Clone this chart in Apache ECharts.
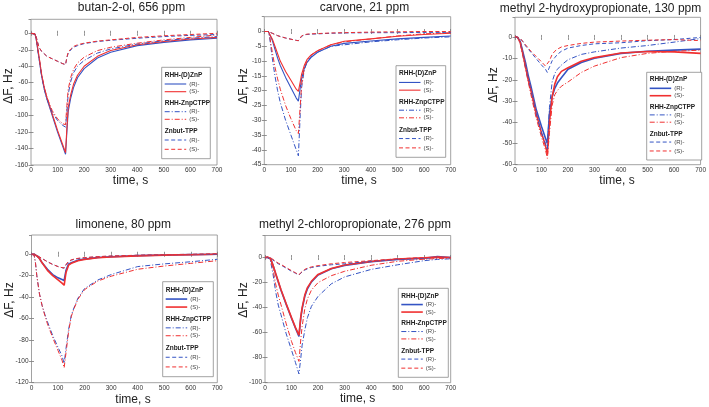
<!DOCTYPE html>
<html><head><meta charset="utf-8">
<script src="https://cdn.jsdelivr.net/npm/echarts@6/dist/echarts.min.js"></script>
<style>html,body{margin:0;padding:0;background:#fff}#c{width:709px;height:407px}</style>
</head><body><div id="c"></div>
<script>
// ---------- DATA (ΔF in Hz vs time in s) ----------
// D = RHH-(D)ZnP (solid), C = RHH-ZnpCTPP (dash-dot), B = Znbut-TPP (dashed); R/S enantiomers
const T_BUT = [0,15,20,30,40,50,60,80,100,120,130,135,140,150,160,175,200,250,300,400,500,600,700];
const BUT_D_R = [0,-1,-8,-30,-52,-68,-80,-100,-120,-138,-147,-120,-95,-78,-66,-54,-43,-30,-23,-15,-11,-8,-6];
const BUT_D_S = [0,-1,-7,-28,-50,-66,-78,-98,-118,-136,-145,-115,-90,-74,-62,-51,-40,-28,-21,-14,-10,-7,-5];
const BUT_C_R = [0,-1,-8,-30,-52,-68,-80,-96,-106,-112,-114,-95,-74,-58,-48,-40,-33,-24,-19,-13,-9,-6,-4];
const BUT_C_S = [0,-1,-7,-28,-50,-66,-78,-94,-104,-110,-111,-88,-68,-53,-44,-36,-29,-21,-17,-12,-8,-5,-2];
const BUT_B_R = [0,-0.5,-5,-17,-22,-25,-28,-31,-34,-37,-38,-30,-24,-20,-17,-15,-12.5,-10,-8.5,-6,-4,-2.5,-1.5];
const BUT_B_S = [0,-0.5,-5,-17,-22,-25,-28,-31,-34,-37,-38,-29,-23,-19,-16,-14,-12,-9.5,-8,-5,-3,-1.5,0];

const T_CAR = [0,15,20,30,40,50,60,80,100,120,128,135,140,150,160,175,200,250,300,400,500,600,700];
const CAR_D_R = [0,0,-0.5,-3,-6,-9,-11.5,-15.5,-19,-22.5,-23.5,-19,-16,-12.5,-10.5,-8.8,-7,-5,-4,-3.2,-2.5,-2,-1.5];
const CAR_D_S = [0,0,-0.3,-2.5,-5,-7.5,-10,-13.5,-16.5,-19.5,-20.2,-17,-14.5,-11.5,-9.5,-8,-6.5,-4.5,-3.3,-2.5,-1.6,-1,-0.6];
const CAR_C_R = [0,0,-2,-9,-15,-20,-24,-30,-35,-40,-42,-28,-19,-13,-10.5,-8.5,-7,-5,-4.5,-3.5,-2.8,-2.2,-1.8];
const CAR_C_S = [0,0,-1.5,-7,-12,-16,-19.5,-25,-29.5,-33.5,-34.5,-25,-18,-12.5,-10,-8,-6.5,-4.5,-3.5,-2.5,-1.5,-0.8,-0.4];
const CAR_B_R = [0,0,-0.2,-0.6,-1,-1.4,-1.7,-2.2,-2.6,-3,-3.1,-2.3,-1.6,-1.2,-1,-0.9,-0.8,-0.6,-0.5,-0.4,-0.4,-0.3,-0.3];
const CAR_B_S = [0,0,-0.2,-0.6,-1,-1.4,-1.7,-2.2,-2.6,-3,-3.1,-2.2,-1.5,-1.1,-0.9,-0.8,-0.7,-0.5,-0.4,-0.2,-0.1,0,0];

const T_MHP = [0,10,15,20,30,40,50,60,80,100,115,122,130,140,150,160,175,200,250,300,400,500,600,700];
const MHP_D_R = [0.5,0,-0.5,-2,-7,-12,-18,-23,-34,-42,-47.5,-50,-36,-28,-24,-21.5,-19,-15,-11.8,-9.8,-7.5,-6.5,-6,-5.5];
const MHP_D_S = [0.5,0,-0.5,-2.5,-8,-14,-20,-25,-36,-45,-51,-55,-40,-28,-22,-18.5,-16,-14.3,-11.2,-9.5,-7.3,-6.6,-6.8,-7.5];
const MHP_C_R = [0.5,0,-0.5,-2.5,-8,-14,-20,-25,-36,-45,-50,-53,-33,-21,-17,-15,-13,-10.5,-8,-6.8,-5,-3.8,-2.2,-0.5];
const MHP_C_S = [0.5,0,-0.5,-3,-9,-15,-21,-27,-38,-47,-53,-57,-45,-32,-27,-25,-23,-21,-16.5,-13.5,-9.5,-7.5,-6.5,-6];
const MHP_B_R = [0.5,0,-0.2,-0.5,-2,-4,-5.5,-7,-10,-13,-15,-16.5,-14,-11,-9.5,-8,-6.5,-5,-3.8,-3,-2.5,-1.5,-1,0];
const MHP_B_S = [0.5,0,-0.2,-0.5,-2,-3.5,-5,-6.5,-9,-11.5,-13.5,-14,-11,-8,-6.5,-5.5,-4.5,-3.8,-2.8,-2.2,-1.7,-1.3,-1,-1.5];

const T_LIM = [0,10,15,20,30,40,50,60,80,100,115,123,130,140,150,160,175,200,250,300,400,500,600,700];
const LIM_D_R = [0,0,-0.5,-1.5,-4,-8,-11,-14,-19,-22,-23.5,-24.5,-15,-9,-8,-7,-5.5,-4.5,-3,-2.3,-1.3,-0.7,-0.3,0];
const LIM_D_S = [0,0,-0.5,-1.5,-4,-8,-11.5,-15,-20,-24,-27,-29,-17,-10,-8.5,-7.5,-6,-4.8,-3.3,-2.6,-1.5,-0.8,-0.4,0];
const LIM_C_R = [0,-1,-8,-20,-37,-48,-56,-63,-76,-87,-95,-102,-88,-70,-57,-50,-41,-32,-24,-19,-11.5,-9,-7,-4.7];
const LIM_C_S = [0,-1,-8,-20,-37,-48,-57,-65,-78,-90,-99,-106,-92,-72,-58,-51,-42,-33,-25,-20.5,-14,-11,-8.5,-6];
const LIM_B_R = [0,0,-0.3,-1,-2.5,-4,-5.5,-7,-9.5,-11.5,-12.5,-13,-10,-7,-5.5,-4.8,-4,-3.3,-2.3,-1.7,-1,-0.5,-0.2,0];
const LIM_B_S = [0,0,-0.3,-1,-2.5,-4,-5.5,-7,-9.5,-11.5,-12.5,-12.8,-9.5,-6.5,-5.2,-4.5,-3.8,-3.1,-2.2,-1.6,-0.9,-0.4,0,0.5];

const T_MCP = [0,10,15,20,30,40,50,60,80,100,115,128,135,140,150,160,175,200,250,300,400,500,600,650,700];
const MCP_D_R = [0,0,0,-0.5,-6,-13,-19.5,-26,-37.5,-48.5,-56.5,-63,-48,-41,-31,-25,-19.5,-14,-9,-6.3,-3.3,-1.5,-0.6,0.8,0];
const MCP_D_S = [0,0,0,-0.5,-6,-12.5,-19,-25.5,-37,-48,-56,-62,-47,-40,-30,-24,-19,-13.5,-8.7,-6,-3.2,-1.2,-0.3,0.3,0];
const MCP_C_R = [0,0,0,-2,-13,-27,-38,-45.5,-61,-74,-84,-93,-80,-70,-58,-48,-39,-31,-21,-15.5,-9.5,-5.8,-2.5,-1.5,-1];
const MCP_C_S = [0,0.5,0,-1.5,-9,-21,-30,-37.5,-53,-67,-76,-83,-65,-55,-41,-33,-26,-20,-14.5,-11,-6.2,-3,-1.3,-0.8,-0.5];
const MCP_B_R = [0,0,0,-0.5,-2,-3.5,-5,-6,-8.5,-11,-12.5,-14,-12.5,-11.5,-10,-9,-8,-7,-5.8,-5,-3,-1.5,-0.5,0,0];
const MCP_B_S = [0,0.5,0.5,0,-1.5,-3,-4.5,-5.5,-8,-10.5,-12.2,-13.8,-12,-11,-9.5,-8.5,-7.5,-6.5,-5,-4,-2.5,-1,0,0,0];

const TITLES = ['butan-2-ol, 656 ppm','carvone, 21 ppm','methyl 2-hydroxypropionate, 130 ppm','limonene, 80 ppm','methyl 2-chloropropionate, 276 ppm'];
const GROUPS = ['RHH-(D)ZnP','RHH-ZnpCTPP','Znbut-TPP'];
const ENANT = ['(R)-','(S)-'];
const X_TICKS = [0,700,100];
const Y_RANGES = [[-160,17,20],[-45,5,5],[-60,9.5,10],[-120,18,20],[-100,17.6,20]];
const X_NAME = 'time, s';
const Y_NAME = 'ΔF, Hz';

const PANEL_T = [T_BUT,T_CAR,T_MHP,T_LIM,T_MCP];
const PANEL_V = [
  [[BUT_D_R,BUT_D_S],[BUT_C_R,BUT_C_S],[BUT_B_R,BUT_B_S]],
  [[CAR_D_R,CAR_D_S],[CAR_C_R,CAR_C_S],[CAR_B_R,CAR_B_S]],
  [[MHP_D_R,MHP_D_S],[MHP_C_R,MHP_C_S],[MHP_B_R,MHP_B_S]],
  [[LIM_D_R,LIM_D_S],[LIM_C_R,LIM_C_S],[LIM_B_R,LIM_B_S]],
  [[MCP_D_R,MCP_D_S],[MCP_C_R,MCP_C_S],[MCP_B_R,MCP_B_S]]
];

// ---------- LAYOUT / STYLE ----------
const FONT = '"Liberation Sans", Arial, Helvetica, sans-serif';
const COLORS = ['#3454c4','#f03030'];
const DASH = [null,[5,2,1,2],[4,2.5]];
const LAYOUT = [
  {grid:{left:31,top:19.3,width:186,height:145.7}, title:[131.5,8], xname:[130.5,181], yname:[8.5,86], legend:[161.7,67.3,48.6,91.4], lw:1.1},
  {grid:{left:264.3,top:16.7,width:186.4,height:148}, title:[364.5,8], xname:[359,180.7], yname:[244,86], legend:[396,65.7,49.7,91.6], lw:1.1},
  {grid:{left:515,top:17.3,width:186.7,height:147.4}, title:[600.5,8.3], xname:[617,180.5], yname:[494,85], legend:[646.7,72.3,55,87.7], lw:1.6},
  {grid:{left:31.5,top:235,width:185.8,height:147.7}, title:[123.3,225], xname:[133,399.3], yname:[10,300], legend:[162.7,281.7,50.6,95], lw:1.6},
  {grid:{left:265,top:235.5,width:185.7,height:147.2}, title:[355,225], xname:[357.7,399], yname:[244,300], legend:[398.3,288.3,50,89], lw:1.6}
];

function legendEls(L, lw) {
  const [x,y,w,h] = L; const s = h/91.4; const els = [];
  els.push({type:'rect', shape:{x:x,y:y,width:w,height:h}, style:{fill:'#fff', stroke:'#8a8a8a', lineWidth:0.8}, z:100});
  const headY = [7.7,36,64.4], itemY = [[16.7,24.4],[44.4,52],[72.7,82]];
  GROUPS.forEach((g,gi) => {
    els.push({type:'text', x:x+3, y:y+headY[gi]*s, style:{text:g, font:'bold 6.5px '+FONT, fill:'#222', textVerticalAlign:'middle', verticalAlign:'middle'}, z:101});
    ENANT.forEach((e,ei) => {
      const yy = y+itemY[gi][ei]*s;
      els.push({type:'line', shape:{x1:x+3,y1:yy,x2:x+24.5,y2:yy}, style:{stroke:COLORS[ei], lineWidth:gi===0?lw:1, lineDash:DASH[gi]}, z:101});
      els.push({type:'text', x:x+27.5, y:yy, style:{text:e, font:'6px '+FONT, fill:'#444', textVerticalAlign:'middle', verticalAlign:'middle'}, z:101});
    });
  });
  return els;
}

const grid=[], xAxis=[], yAxis=[], series=[], graphic=[];
const tick = {show:true, inside:true, length:2.5, lineStyle:{color:'#777', width:0.8}};
LAYOUT.forEach((L,i) => {
  grid.push(Object.assign({show:true, borderColor:'#8a8a8a', borderWidth:0.8, backgroundColor:'#fff'}, L.grid));
  const xa = {type:'value', gridIndex:i, min:X_TICKS[0], max:X_TICKS[1], interval:X_TICKS[2], axisLine:{show:false}, splitLine:{show:false}, axisTick:tick};
  xAxis.push(Object.assign({}, xa, {position:'bottom', axisLabel:{fontSize:6.5, margin:2, color:'#333', fontFamily:FONT}}));
  xAxis.push(Object.assign({}, xa, {position:'top', axisLabel:{show:false}}));
  const [ymin,ymax,yint] = Y_RANGES[i];
  const ya = {type:'value', gridIndex:i, min:ymin, max:ymax, interval:yint, axisLine:{show:false}, splitLine:{show:false}, axisTick:tick};
  yAxis.push(Object.assign({}, ya, {position:'left', axisLabel:{fontSize:6.5, margin:3, color:'#333', fontFamily:FONT, showMaxLabel:false}}));
  yAxis.push(Object.assign({}, ya, {position:'right', axisLabel:{show:false}}));
  const t = PANEL_T[i];
  PANEL_V[i].forEach((grp,gi) => grp.forEach((vals,ei) => {
    series.push({type:'line', name:GROUPS[gi]+' '+ENANT[ei], xAxisIndex:2*i, yAxisIndex:2*i, symbol:'none', showSymbol:false,
      data:t.map((x,k)=>[x, vals[k]]), animation:false,
      lineStyle:{color:COLORS[ei], width:gi===0?L.lw:1, type:DASH[gi]||'solid'}, itemStyle:{color:COLORS[ei]}, z:2+gi});
  }));
  graphic.push({type:'text', x:L.title[0], y:L.title[1], style:{text:TITLES[i], font:'12px '+FONT, fill:'#222', textAlign:'center', align:'center', textVerticalAlign:'middle', verticalAlign:'middle'}});
  graphic.push({type:'text', x:L.xname[0], y:L.xname[1], style:{text:X_NAME, font:'12px '+FONT, fill:'#222', textAlign:'center', align:'center', textVerticalAlign:'middle', verticalAlign:'middle'}});
  graphic.push({type:'text', x:L.yname[0], y:L.yname[1], rotation:Math.PI/2, style:{text:Y_NAME, font:'12px '+FONT, fill:'#222', textAlign:'center', align:'center', textVerticalAlign:'middle', verticalAlign:'middle'}});
  legendEls(L.legend, L.lw).forEach(e => graphic.push(e));
});

const chart = echarts.init(document.getElementById('c'), null, {renderer:'canvas'});
chart.setOption({backgroundColor:'#fff', animation:false, grid, xAxis, yAxis, series, graphic});
</script></body></html>
